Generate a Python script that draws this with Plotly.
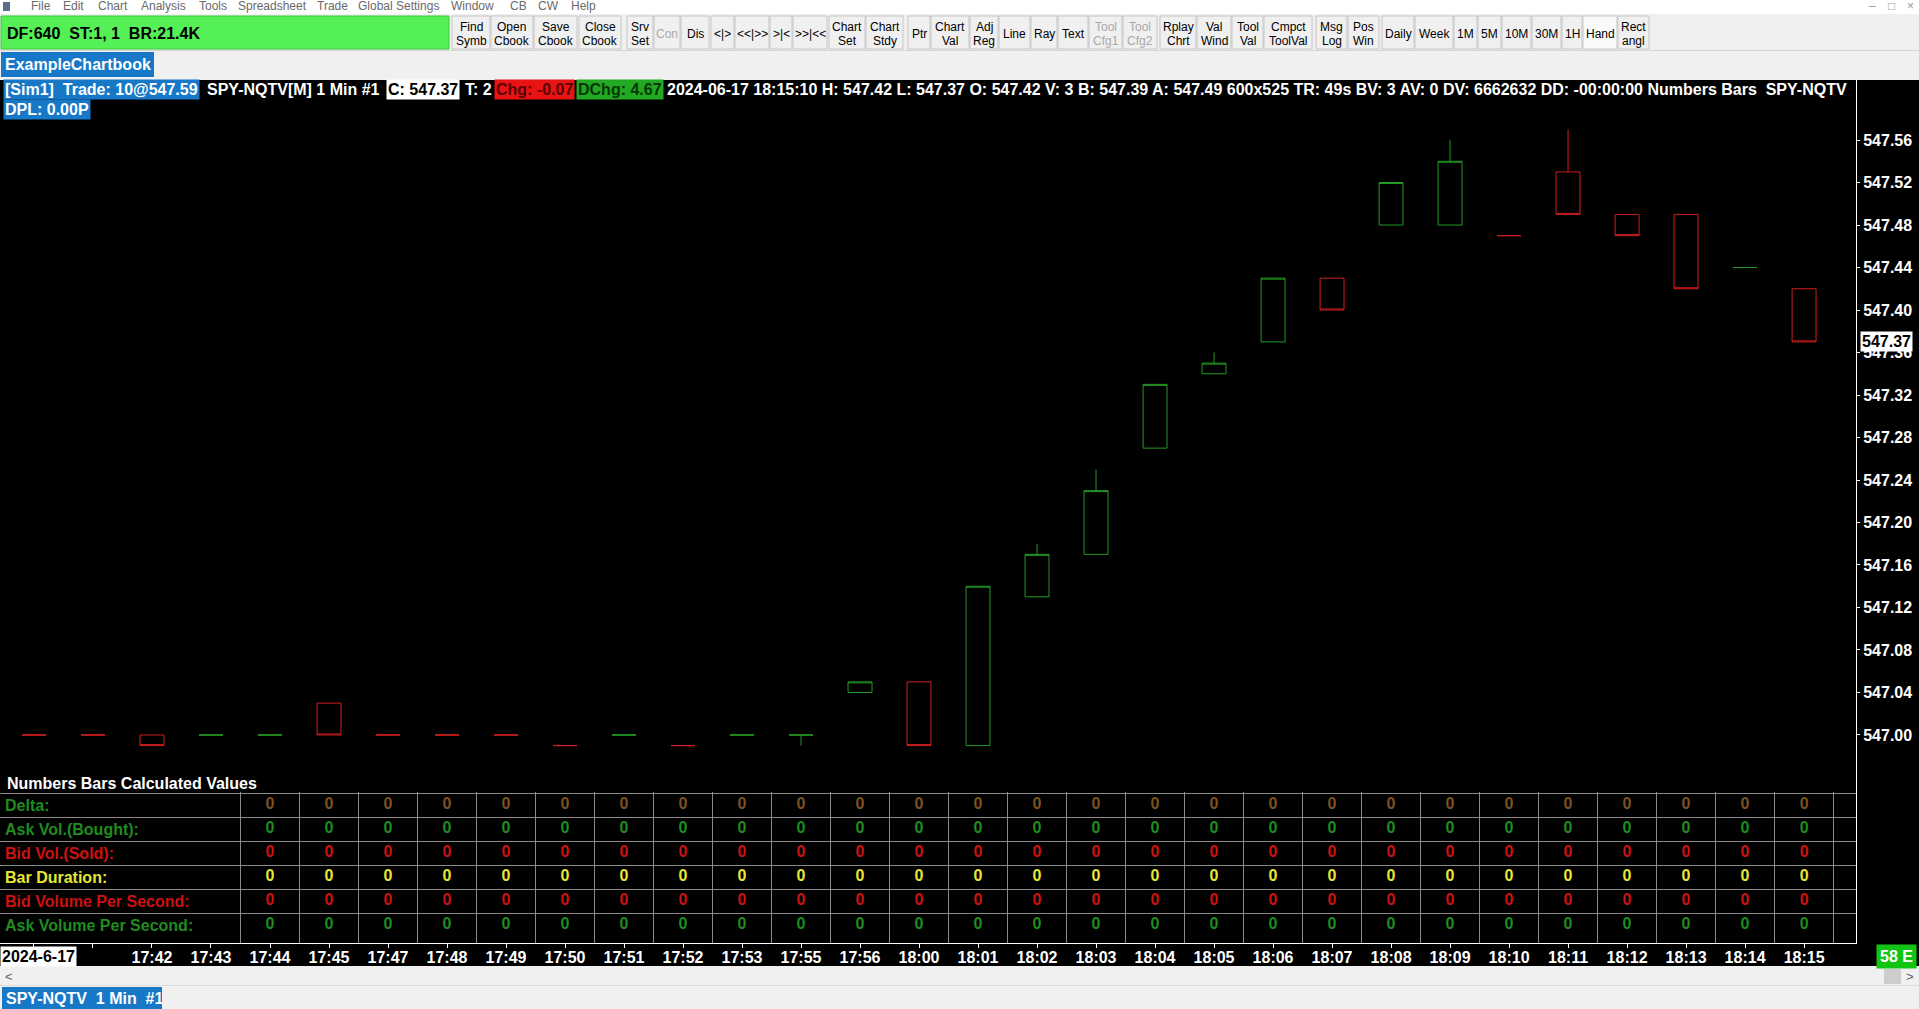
import plotly.graph_objects as go

W, H = 1919, 1009
FONT = "Liberation Sans, Arial, sans-serif"

# SPY-NQTV 1 Min bars, 2024-06-17
TIMES = ['17:40', '17:41', '17:42', '17:43', '17:44', '17:45', '17:47', '17:48', '17:49', '17:50',
         '17:51', '17:52', '17:53', '17:55', '17:56', '18:00', '18:01', '18:02', '18:03', '18:04',
         '18:05', '18:06', '18:07', '18:08', '18:09', '18:10', '18:11', '18:12', '18:13', '18:14',
         '18:15']
OPEN = [547.00, 547.00, 547.00, 547.00, 547.00, 547.03, 547.00, 547.00, 547.00, 546.99,
        547.00, 546.99, 547.00, 547.00, 547.04, 547.05, 546.99, 547.13, 547.17, 547.27,
        547.34, 547.37, 547.43, 547.48, 547.48, 547.47, 547.53, 547.49, 547.49, 547.44,
        547.42]
HIGH = [547.00, 547.00, 547.00, 547.00, 547.00, 547.03, 547.00, 547.00, 547.00, 546.99,
        547.00, 546.99, 547.00, 547.00, 547.05, 547.05, 547.14, 547.18, 547.25, 547.33,
        547.36, 547.43, 547.43, 547.52, 547.56, 547.47, 547.57, 547.49, 547.49, 547.44,
        547.42]
LOW = [547.00, 547.00, 546.99, 547.00, 547.00, 547.00, 547.00, 547.00, 547.00, 546.99,
       547.00, 546.99, 547.00, 546.99, 547.04, 546.99, 546.99, 547.13, 547.17, 547.27,
       547.34, 547.37, 547.40, 547.48, 547.48, 547.47, 547.49, 547.47, 547.42, 547.44,
       547.37]
CLOSE = [547.00, 547.00, 546.99, 547.00, 547.00, 547.00, 547.00, 547.00, 547.00, 546.99,
         547.00, 546.99, 547.00, 547.00, 547.05, 546.99, 547.14, 547.17, 547.23, 547.33,
         547.35, 547.43, 547.40, 547.52, 547.54, 547.47, 547.49, 547.47, 547.42, 547.44,
         547.37]
BAR_DIR = ['dn', 'dn', 'dn', 'up', 'up', 'dn', 'dn', 'dn', 'dn', 'dn',
           'up', 'dn', 'up', 'up', 'up', 'dn', 'up', 'up', 'up', 'up',
           'up', 'up', 'dn', 'up', 'up', 'dn', 'dn', 'dn', 'dn', 'up',
           'dn']

PRICE_TICKS = [547.00, 547.04, 547.08, 547.12, 547.16, 547.20, 547.24, 547.28,
               547.32, 547.36, 547.40, 547.44, 547.48, 547.52, 547.56]

# Numbers Bars Calculated Values, bars 17:44 .. 18:15
TABLE_FIRST_BAR = 4
ROW_LABELS = ['Delta:', 'Ask Vol.(Bought):', 'Bid Vol.(Sold):', 'Bar Duration:',
              'Bid Volume Per Second:', 'Ask Volume Per Second:']
DELTA = [0, 0, 0, 0, 0, 0, 0, 0, 0, 0, 0, 0, 0, 0, 0, 0, 0, 0, 0, 0, 0, 0, 0, 0, 0, 0, 0]
ASK_VOL = [0, 0, 0, 0, 0, 0, 0, 0, 0, 0, 0, 0, 0, 0, 0, 0, 0, 0, 0, 0, 0, 0, 0, 0, 0, 0, 0]
BID_VOL = [0, 0, 0, 0, 0, 0, 0, 0, 0, 0, 0, 0, 0, 0, 0, 0, 0, 0, 0, 0, 0, 0, 0, 0, 0, 0, 0]
BAR_DURATION = [0, 0, 0, 0, 0, 0, 0, 0, 0, 0, 0, 0, 0, 0, 0, 0, 0, 0, 0, 0, 0, 0, 0, 0, 0, 0, 0]
BID_VOL_PER_SEC = [0, 0, 0, 0, 0, 0, 0, 0, 0, 0, 0, 0, 0, 0, 0, 0, 0, 0, 0, 0, 0, 0, 0, 0, 0, 0, 0]
ASK_VOL_PER_SEC = [0, 0, 0, 0, 0, 0, 0, 0, 0, 0, 0, 0, 0, 0, 0, 0, 0, 0, 0, 0, 0, 0, 0, 0, 0, 0, 0]

GREEN = '#249a24'
RED = '#d21e1e'
BLUE = '#1878c8'
ROW_COLORS = ['#1f8c1f', '#1f8c1f', '#cc1111', '#e6e633', '#cc1111', '#1f8c1f']
VALUE_COLORS = ['#7d5020', '#1f8c1f', '#cc1111', '#e6e633', '#cc1111', '#1f8c1f']


def px(x):
    return x / W


def py(y):
    return 1 - y / H


def rect(x0, y0, x1, y1, fill, line=None):
    return dict(type='rect', xref='paper', yref='paper', layer='below',
                x0=px(x0), x1=px(x1), y0=py(y1), y1=py(y0), fillcolor=fill,
                line=dict(color=line or fill, width=1 if line else 0))


def txt(x, y, s, size=16, color='white', bold=True, bg=None, xanchor='left', yref='paper', pad=1):
    return dict(x=px(x), y=py(y) if yref == 'paper' else y, xref='paper', yref=yref, text=s,
                showarrow=False, xanchor=xanchor, yanchor='middle', bgcolor=bg, borderpad=pad,
                font=dict(family=FONT, size=size, color=color, weight='bold' if bold else 'normal'))


fig = go.Figure()

# candles, split by outline colour
for d, col in [('up', GREEN), ('dn', RED)]:
    idx = [i for i, v in enumerate(BAR_DIR) if v == d]
    fig.add_trace(go.Candlestick(
        x=idx,
        open=[OPEN[i] for i in idx], high=[HIGH[i] for i in idx],
        low=[LOW[i] for i in idx], close=[CLOSE[i] for i in idx],
        increasing=dict(line=dict(color=col, width=1), fillcolor='black'),
        decreasing=dict(line=dict(color=col, width=1), fillcolor='black'),
        whiskerwidth=0, showlegend=False, xaxis='x', yaxis='y'))

# table values
rows = [DELTA, ASK_VOL, BID_VOL, BAR_DURATION, BID_VOL_PER_SEC, ASK_VOL_PER_SEC]
for r, vals in enumerate(rows):
    fig.add_trace(go.Scatter(
        x=list(range(TABLE_FIRST_BAR, TABLE_FIRST_BAR + len(vals))), y=[r] * len(vals),
        text=[str(v) for v in vals], mode='text', textposition='middle center',
        textfont=dict(family=FONT, size=16, color=VALUE_COLORS[r], weight='bold'),
        showlegend=False, hoverinfo='skip', xaxis='x2', yaxis='y2'))

x_range = [-0.576, 30.88]
plot_right = px(1856)
tick_text = [''] * 2 + TIMES[2:]

fig.update_layout(
    width=W, height=H,
    margin=dict(l=0, r=0, t=0, b=0),
    paper_bgcolor='#f0f0f0', plot_bgcolor='rgba(0,0,0,0)',
    boxgap=0.42,
    xaxis=dict(domain=[0, plot_right], range=x_range, anchor='y',
               tickvals=list(range(len(TIMES))), ticktext=tick_text,
               ticks='outside', ticklen=4, tickcolor='white', ticklabelstandoff=-4,
               tickfont=dict(family=FONT, size=16, color='white', weight='bold'),
               showline=True, linecolor='white', linewidth=1,
               showgrid=False, zeroline=False, rangeslider=dict(visible=False),
               automargin=False),
    yaxis=dict(domain=[py(943), py(80)], range=[546.8042, 547.6165], anchor='x', side='right',
               tickvals=PRICE_TICKS, tickformat='.2f',
               ticks='outside', ticklen=3, tickcolor='white',
               tickfont=dict(family=FONT, size=16, color='white', weight='bold'),
               showline=True, linecolor='white', linewidth=1, mirror=True,
               showgrid=False, zeroline=False, automargin=False),
    xaxis2=dict(domain=[0, plot_right], range=x_range, anchor='y2',
                tickvals=[i - 0.5 for i in range(TABLE_FIRST_BAR, len(TIMES) + 1)],
                showticklabels=False, ticks='', showgrid=True, gridcolor='#8a8a8a', gridwidth=1,
                zeroline=False, showline=False),
    yaxis2=dict(domain=[py(943), py(791.8)], range=[5.75, -0.55], anchor='x2',
                tickvals=[-0.5, 0.5, 1.5, 2.5, 3.5, 4.5],
                showticklabels=False, ticks='', showgrid=True, gridcolor='#8a8a8a', gridwidth=1,
                zeroline=False, showline=False),
)

shapes = [
    rect(0, 0, W, 14, '#ffffff'),
    rect(3, 2, 10, 11, '#5a6e8c'),
    rect(0, 50, W, 51, '#d4d4d4'),
    rect(0, 80, W, 966, '#000000'),
    rect(1, 16, 449, 49, '#55f055', '#3cc83c'),
    rect(1, 52, 154, 77, BLUE),
    rect(0, 966, W, 985, '#f0f0f0'),
    rect(1884, 969, 1901, 984, '#cdcdcd'),
    rect(0, 985, W, 986, '#dcdcdc'),
    rect(2, 987, 162, 1009, BLUE),
]

ann = []
# menu bar
for x, m in [(30, 'File'), (62, 'Edit'), (97, 'Chart'), (140, 'Analysis'), (198, 'Tools'),
             (237, 'Spreadsheet'), (316, 'Trade'), (357, 'Global Settings'), (450, 'Window'),
             (509, 'CB'), (537, 'CW'), (570, 'Help')]:
    ann.append(txt(x, 6, m, size=12, color='#6a6a6a', bold=False, pad=0))
for x, g in [(1872, '–'), (1891, '□'), (1910, '×')]:
    ann.append(txt(x, 6, g, size=12, color='#9a9a9a', bold=False, xanchor='center', pad=0))

# toolbar
ann.append(txt(5, 33, 'DF:640\u00a0\u00a0ST:1, 1\u00a0\u00a0BR:21.4K', color='black'))
buttons = [
    (452, 490, 'Find', 'Symb'), (491, 533, 'Open', 'Cbook'), (534, 577, 'Save', 'Cbook'),
    (579, 621, 'Close', 'Cbook'), (627, 653, 'Srv', 'Set'), (654, 680, 'Con', ''),
    (681, 709, 'Dis', ''), (711, 734, '&lt;|&gt;', ''), (735, 769, '&lt;&lt;|&gt;&gt;', ''),
    (770, 792, '&gt;|&lt;', ''), (793, 827, '&gt;&gt;|&lt;&lt;', ''), (829, 865, 'Chart', 'Set'),
    (866, 903, 'Chart', 'Stdy'), (908, 930, 'Ptr', ''), (931, 969, 'Chart', 'Val'),
    (970, 998, 'Adj', 'Reg'), (999, 1030, 'Line', ''), (1031, 1057, 'Ray', ''),
    (1058, 1088, 'Text', ''), (1089, 1122, 'Tool', 'Cfg1'), (1123, 1157, 'Tool', 'Cfg2'),
    (1160, 1196, 'Rplay', 'Chrt'), (1197, 1231, 'Val', 'Wind'), (1232, 1263, 'Tool', 'Val'),
    (1264, 1312, 'Cmpct', 'ToolVal'), (1316, 1347, 'Msg', 'Log'), (1348, 1379, 'Pos', 'Win'),
    (1382, 1414, 'Daily', ''), (1415, 1453, 'Week', ''), (1454, 1477, '1M', ''),
    (1478, 1501, '5M', ''), (1502, 1531, '10M', ''), (1532, 1561, '30M', ''),
    (1562, 1582, '1H', ''), (1583, 1617, 'Hand', ''), (1618, 1649, 'Rect', 'angl'),
]
grayed = {'Con', 'Cfg1', 'Cfg2'}
for x0, x1, l1, l2 in buttons:
    fill = '#fafafa' if l1 == 'Hand' else '#f0f0f0'
    shapes.append(rect(x0, 16, x1, 49, fill, '#c6c6c6'))
    c = '#a8a8a8' if (l1 in grayed or l2 in grayed) else '#000000'
    cx = (x0 + x1) / 2
    if l2:
        ann.append(txt(cx, 27, l1, size=12, color=c, bold=False, xanchor='center', pad=0))
        ann.append(txt(cx, 41, l2, size=12, color=c, bold=False, xanchor='center', pad=0))
    else:
        ann.append(txt(cx, 34, l1, size=12, color=c, bold=False, xanchor='center', pad=0))

ann.append(txt(3, 64.5, 'ExampleChartbook'))

# chart header line
last = len(CLOSE) - 1
ann += [
    txt(3, 90, '[Sim1]\u00a0\u00a0Trade: 10@547.59', bg=BLUE),
    txt(205, 90, 'SPY-NQTV[M] 1 Min #1'),
    txt(386, 90, f'C: {CLOSE[last]:.2f}', color='black', bg='white'),
    txt(463, 90, 'T: 2'),
    txt(494, 90, 'Chg: -0.07', color='#5a0000', bg='#e81414'),
    txt(576, 90, 'DChg: 4.67', color='#053805', bg='#22a822'),
    txt(665, 90, f'2024-06-17 18:15:10 H: {HIGH[last]:.2f} L: {LOW[last]:.2f} O: {OPEN[last]:.2f} '
                 'V: 3 B: 547.39 A: 547.49 600x525 TR: 49s BV: 3 AV: 0 DV: 6662632 '
                 'DD: -00:00:00 Numbers Bars\u00a0\u00a0SPY-NQTV'),
    txt(3, 109.5, 'DPL: 0.00P', bg=BLUE),
]

# current price marker on the price scale
ann.append(txt(1860, CLOSE[last], f'{CLOSE[last]:.2f}', color='black', bg='white', yref='y'))

# table title and row labels
ann.append(txt(5, 783, 'Numbers Bars Calculated Values'))
for r, lab in enumerate(ROW_LABELS):
    ann.append(dict(x=px(3), y=r, xref='paper', yref='y2', text=lab, showarrow=False,
                    xanchor='left', yanchor='middle',
                    font=dict(family=FONT, size=16, color=ROW_COLORS[r], weight='bold')))

# time scale extras
ann.append(txt(0, 956, '2024-6-17', color='black', bg='white'))
ann.append(txt(1917, 956, '58 E', bg='#12c412', xanchor='right', pad=3))

# scrollbar and bottom tab
ann.append(txt(9, 976, '&lt;', size=13, color='#606060', bold=False, xanchor='center', pad=0))
ann.append(txt(1910, 976, '&gt;', size=13, color='#606060', bold=False, xanchor='center', pad=0))
ann.append(txt(4, 998, 'SPY-NQTV\u00a0\u00a01 Min\u00a0\u00a0#1'))

fig.update_layout(shapes=shapes, annotations=ann)

fig.write_html("out.html", config={'displayModeBar': False},
               post_script="document.body.style.margin='0';")
